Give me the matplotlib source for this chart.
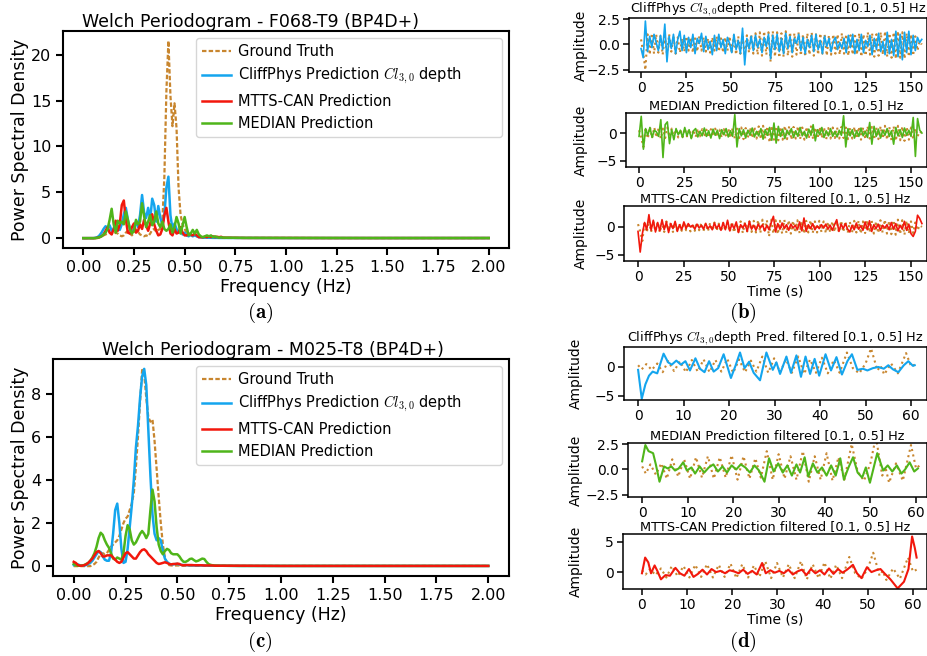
import numpy as np
import matplotlib
matplotlib.use("Agg")
import matplotlib.pyplot as plt

plt.rcParams["font.family"] = "DejaVu Sans"
plt.rcParams["mathtext.fontset"] = "cm"

# colours
C_GT = "#c8862f"
C_CLIFF = "#14a5ee"
C_MTTS = "#f2170c"
C_MEDIAN = "#4fb51a"

LBL_GT = "Ground Truth"
LBL_CLIFF = "CliffPhys Prediction $Cl_{3,0}$ depth        "
LBL_MTTS = "MTTS-CAN Prediction"
LBL_MEDIAN = "MEDIAN Prediction"

# ---------------- Welch PSD, 0.00..0.70 Hz step 0.01 + tail ----------------
freq = np.concatenate([np.round(np.arange(0.0, 0.705, 0.01), 2),
                       [0.8, 1.0, 1.2, 1.4, 1.6, 1.8, 2.0]])

# (a) F068-T9
psd_a_gt = [0, 0, 0, 0, 0, 0, 0, 0, 0.1, 0.2,
            0.3, 0.4, 0.5, 0.6, 0.5, 0.4, 0.6, 0.5, 0.3, 0.2,
            0.3, 0.6, 0.8, 0.5, 0.3, 0.6, 0.9, 0.7, 0.4, 0.3,
            0.2, 0.3, 0.2, 0.5, 0.9, 1.0, 0.7, 0.9, 1.0, 1.8,
            6.7, 16.0, 21.5, 15.5, 12.2, 14.7, 12.0, 5.5, 2.5, 1.5,
            1.0, 0.6, 0.4, 0.3, 0.2, 0.3, 0.2, 0.15, 0.1, 0.1,
            0.1, 0.08, 0.06, 0.05, 0.05, 0.04, 0.04, 0.03, 0.03, 0.03,
            0.02,
            0.02, 0.02, 0.01, 0.01, 0.01, 0.01, 0.01]
psd_a_cliff = [0, 0, 0, 0, 0, 0, 0.05, 0.1, 0.3, 0.6,
               1.0, 1.3, 1.1, 1.4, 0.8, 1.0, 1.6, 1.2, 0.9, 1.5,
               2.6, 3.3, 2.0, 1.0, 0.6, 1.0, 1.8, 1.2, 2.5, 4.7,
               2.8, 2.2, 3.3, 2.0, 4.3, 3.6, 1.8, 3.5, 2.2, 1.5,
               2.5, 5.5, 6.7, 2.5, 1.0, 1.6, 1.0, 0.6, 0.8, 0.4,
               0.6, 0.3, 0.2, 0.4, 0.2, 0.3, 0.2, 0.1, 0.1, 0.05,
               0.05, 0.05, 0.04, 0.04, 0.03, 0.03, 0.03, 0.02, 0.02, 0.02,
               0.02,
               0.02, 0.01, 0.01, 0.01, 0.01, 0.01, 0.01]
psd_a_mtts = [0, 0, 0, 0, 0, 0, 0, 0.05, 0.1, 0.2,
              0.4, 0.8, 1.2, 0.6, 0.4, 1.0, 1.9, 0.8, 1.5, 3.6,
              4.1, 2.0, 0.6, 0.5, 1.2, 1.6, 0.6, 0.8, 1.5, 1.0,
              2.0, 1.4, 0.8, 1.6, 2.6, 1.5, 0.8, 0.3, 0.4, 1.0,
              2.5, 3.3, 1.8, 0.5, 0.3, 1.0, 0.5, 0.6, 1.2, 0.6,
              0.3, 0.3, 0.5, 0.4, 0.3, 0.5, 0.3, 0.1, 0.1, 0.1,
              0.15, 0.1, 0.2, 0.1, 0.2, 0.1, 0.15, 0.1, 0.15, 0.05,
              0.05,
              0.02, 0.02, 0.01, 0.01, 0.01, 0.01, 0.01]
psd_a_median = [0, 0, 0, 0, 0, 0, 0, 0.05, 0.1, 0.2,
                0.4, 0.6, 1.0, 2.0, 3.2, 1.5, 0.6, 1.9, 1.6, 1.8,
                1.5, 2.9, 2.0, 1.0, 0.5, 0.8, 2.0, 1.5, 1.8, 3.8,
                2.4, 1.2, 1.8, 2.5, 1.4, 1.8, 2.9, 1.6, 1.2, 1.8,
                1.0, 0.8, 1.0, 1.5, 0.6, 1.2, 2.3, 1.6, 0.5, 1.4,
                2.3, 1.2, 0.3, 0.5, 0.9, 0.5, 0.9, 0.4, 0.2, 0.1,
                0.2, 0.3, 0.2, 0.3, 0.1, 0.2, 0.1, 0.05, 0.1, 0.05,
                0.05,
                0.03, 0.02, 0.02, 0.01, 0.01, 0.01, 0.01]

# (c) M025-T8
psd_c_gt = [0, 0, 0, 0, 0, 0, 0, 0, 0, 0.05,
            0.1, 0.2, 0.4, 0.55, 0.6, 0.55, 0.6, 0.75, 0.9, 1.0,
            1.1, 1.2, 1.4, 1.7, 2.0, 2.2, 2.3, 2.6, 2.9, 3.4,
            4.6, 6.0, 7.6, 9.1, 8.9, 7.8, 6.9, 6.7, 6.8, 5.8,
            4.5, 3.2, 2.0, 1.0, 0.4, 0.1, 0.05, 0.03, 0.03, 0.03,
            0.03, 0.03, 0.02, 0.02, 0.02, 0.02, 0.02, 0.02, 0.02, 0.02,
            0.02, 0.02, 0.02, 0.02, 0.02, 0.02, 0.02, 0.02, 0.02, 0.02,
            0.02,
            0.01, 0.01, 0.01, 0.01, 0.01, 0.01, 0.01]
psd_c_cliff = [0.05, 0.1, 0.08, 0.04, 0.02, 0.02, 0.05, 0.1, 0.15, 0.25,
               0.4, 0.55, 0.7, 0.65, 0.45, 0.3, 0.25, 0.25, 0.6, 1.5,
               2.6, 2.9, 2.0, 0.8, 0.15, 0.2, 0.8, 1.8, 2.8, 4.0,
               5.5, 6.5, 7.8, 8.8, 9.15, 8.4, 6.3, 4.2, 2.4, 1.5,
               1.2, 1.3, 1.2, 0.7, 0.35, 0.2, 0.12, 0.08, 0.08, 0.1,
               0.1, 0.08, 0.06, 0.05, 0.05, 0.04, 0.04, 0.04, 0.03, 0.03,
               0.03, 0.03, 0.03, 0.03, 0.03, 0.02, 0.02, 0.02, 0.02, 0.02,
               0.02,
               0.01, 0.01, 0.01, 0.01, 0.01, 0.01, 0.01]
psd_c_mtts = [0.2, 0.15, 0.05, 0.02, 0.02, 0.04, 0.08, 0.15, 0.25, 0.35,
              0.5, 0.65, 0.7, 0.6, 0.45, 0.45, 0.5, 0.5, 0.5, 0.4,
              0.3, 0.2, 0.15, 0.2, 0.4, 0.6, 0.65, 0.55, 0.45, 0.35,
              0.35, 0.5, 0.65, 0.75, 0.78, 0.7, 0.55, 0.45, 0.35, 0.25,
              0.15, 0.1, 0.12, 0.15, 0.18, 0.15, 0.1, 0.08, 0.1, 0.1,
              0.12, 0.1, 0.05, 0.04, 0.05, 0.05, 0.05, 0.05, 0.04, 0.04,
              0.04, 0.04, 0.04, 0.03, 0.03, 0.03, 0.03, 0.03, 0.02, 0.02,
              0.02,
              0.02, 0.01, 0.01, 0.01, 0.01, 0.01, 0.01]
psd_c_median = [0.1, 0.05, 0.02, 0.02, 0.03, 0.05, 0.1, 0.15, 0.25, 0.4,
                0.6, 0.9, 1.3, 1.55, 1.45, 1.2, 1.0, 0.85, 0.6, 0.35,
                0.3, 0.4, 0.35, 0.3, 0.6, 1.4, 1.9, 1.7, 1.2, 1.0,
                1.1, 1.3, 1.5, 1.63, 1.5, 1.3, 1.5, 2.6, 3.55, 3.0,
                1.8, 1.0, 0.7, 0.55, 0.7, 0.8, 0.75, 0.6, 0.55, 0.55,
                0.55, 0.45, 0.3, 0.2, 0.2, 0.25, 0.33, 0.35, 0.28, 0.22,
                0.25, 0.3, 0.35, 0.33, 0.2, 0.1, 0.06, 0.04, 0.03, 0.02,
                0.02,
                0.01, 0.01, 0.01, 0.01, 0.01, 0.01, 0.01]

# ---------------- (b) filtered signals, F068-T9, step 1.2 s ----------------
t_b = np.round(np.arange(0.0, 156.01, 1.2), 1)

sig_b_gt = [0.5, -0.8, -2.5, 1.0, -1.0, 1.1, -0.9, 1.0, -0.8, 0.9,
            -1.0, 0.8, -0.9, 1.0, -0.7, 0.8, -0.9, 0.7, -0.8, 0.6,
            -0.7, 0.8, -0.6, 0.7, -0.8, 0.6, -0.7, 0.8, -0.6, 0.7,
            -0.7, 0.6, -0.8, 0.7, -0.6, 0.8, -0.7, 0.6, -0.8, 0.7,
            -0.6, 0.8, -0.9, 0.9, -1.0, 0.8, -0.9, 1.0, -1.1, 0.9,
            -0.8, 1.0, -0.9, 1.1, -1.0, 1.2, -1.1, 1.3, -1.0, 1.2,
            -1.7, 1.3, -1.2, 1.2, -1.3, 1.1, -1.2, 1.3, -1.1, 1.2,
            -1.2, 1.1, -1.0, 1.2, -1.1, 1.0, -1.2, 1.1, -1.0, 1.2,
            -1.1, 1.0, -1.0, 1.1, -0.9, 1.0, -1.1, 0.9, -1.0, 1.0,
            -0.9, 1.0, -1.0, 1.1, -0.9, 1.0, -1.1, 0.9, -1.0, 1.1,
            -1.0, 1.1, -1.2, 1.0, -1.1, 1.2, -1.0, 1.1, -1.2, 1.0,
            -1.1, 1.2, -1.0, 1.3, -1.2, 1.1, -1.3, 1.2, -1.4, 1.3,
            -1.3, 1.2, -1.4, 1.1, -1.2, 1.0, -1.1, 0.8, -0.6, 0.3,
            0.0]
sig_b_cliff = [-0.4, -1.3, 2.3, -0.7, 0.8, -0.3, 1.0, 0.2, -0.6, 0.9,
               -0.5, 2.0, -1.7, 0.8, -0.4, 1.0, -0.9, 0.5, 1.3, -0.6,
               0.9, -0.8, 0.7, -0.3, 1.0, -0.9, 0.6, 0.1, 1.1, -0.7,
               0.8, -0.5, 0.3, -1.0, 0.9, -0.6, 1.0, -0.3, 0.5, -0.9,
               0.7, 0.1, -0.8, 1.0, -0.5, 0.4, -0.9, 1.6, -2.0, 0.6,
               -0.4, 0.8, -0.6, 0.9, -0.3, 0.5, -0.8, 0.7, -0.2, 1.0,
               -1.4, 0.9, -0.5, 1.0, -0.7, 0.6, -0.9, 1.1, -0.4, 0.8,
               -0.8, 0.6, 0.1, 1.0, -0.6, 0.7, -0.9, 0.5, -0.3, 0.9,
               -0.7, 1.0, -0.5, 0.4, -0.9, 0.8, -0.2, 0.6, -0.7, 0.3,
               0.7, -0.5, 0.2, -0.4, 0.6, -0.8, 0.9, -0.3, 1.0, -0.9,
               0.5, -0.6, 1.0, -0.8, 0.4, -0.2, 0.9, -1.0, 0.6, -0.5,
               1.1, -0.7, 0.3, -1.0, 1.2, -0.9, 0.5, -1.1, 1.3, -1.2,
               1.0, -1.5, 1.2, -0.8, 1.3, -1.0, 0.9, -0.6, 0.7, 0.2,
               0.5]
sig_b_median = [-0.6, 3.0, -2.9, 0.8, -0.4, 1.0, -0.8, 0.5, 0.2, -0.6,
                2.4, -4.4, 1.5, 2.0, -1.9, 0.6, -1.2, 0.8, -0.3, 0.5,
                -0.8, 1.0, -0.5, 0.6, -1.0, 0.4, 0.8, -0.7, 0.3, -0.5,
                0.9, -0.6, 0.4, -0.9, 0.7, -0.4, 0.5, -1.0, 0.6, -0.3,
                0.8, -0.7, 0.4, -0.6, 3.3, -2.5, 0.8, -0.5, 0.6, -0.9,
                0.5, -0.4, 0.9, -0.7, 0.3, -0.5, 0.8, -1.1, 0.6, -0.4,
                1.0, -1.3, 1.8, -1.8, 1.2, -0.6, 0.7, -1.0, 0.5, -0.3,
                0.8, -0.8, 0.4, -0.6, 1.0, -0.5, 0.3, -0.9, 0.7, -0.4,
                1.5, -1.4, 0.6, -0.3, 1.0, -0.8, 0.4, -0.5, 0.8, -0.6,
                0.3, -0.7, 0.5, -0.4, 3.1, -2.5, 0.8, -0.5, 0.6, -0.9,
                0.4, -0.6, 0.9, -0.5, 0.3, -0.8, 1.9, -2.0, 1.2, -0.6,
                0.7, -0.9, 0.5, -0.4, 0.8, -0.6, 0.4, -2.0, 1.0, -0.5,
                0.6, -0.8, 0.9, -0.4, 0.5, -0.6, 2.8, -4.2, 2.6, 0.5,
                0.0]
sig_b_mtts = [-0.8, -4.5, -1.2, 0.8, -0.5, 2.2, -0.6, 1.2, -0.9, 0.8,
              -0.7, 1.3, -0.5, 0.9, -1.0, 0.6, -0.3, 1.0, -0.8, 0.4,
              -0.5, 0.9, -0.3, 0.6, 0.0, 0.3, -0.4, 0.5, -0.2, 0.3,
              -0.4, 0.6, -0.3, 0.2, -0.5, 0.7, -0.3, 0.4, -0.6, 0.8,
              -0.5, 1.2, -0.7, 0.5, -0.3, 0.9, -1.0, 0.4, -0.2, 0.6,
              -0.8, 1.0, -0.4, 0.3, -0.6, 0.5, -0.2, 0.4, -0.7, 0.3,
              -0.5, 0.8, 1.9, -0.9, 0.6, -0.4, 0.7, -0.3, 0.4, -0.6,
              0.5, -0.2, 0.3, -0.5, 0.9, -0.7, 1.6, -0.8, 0.4, -0.3,
              0.6, -0.5, 0.2, -0.3, 0.4, -0.2, 0.5, -0.4, 0.3, -0.6,
              0.4, 1.3, -0.8, 0.5, -0.3, 0.6, -0.4, -0.9, 0.3, -0.5,
              0.7, -0.4, 0.2, -0.6, 0.9, -0.5, 1.1, -0.8, 0.4, -0.3,
              0.5, -0.6, 0.3, -0.2, 0.4, -0.5, 0.8, -0.4, 0.6, -0.7,
              0.3, -0.4, 1.0, -0.6, 0.5, -1.2, -1.7, -0.8, 2.1, 1.5,
              0.6]

# ---------------- (d) filtered signals, M025-T8, (time, value) ----------------
sig_d_gt = [(0.0, 0.3), (0.8, -0.4), (1.8, 0.5), (3.0, -0.5), (4.2, 0.6),
            (5.4, -0.9), (6.6, 1.0), (7.9, -0.7), (9.2, 1.0), (10.5, -0.9),
            (11.8, 1.2), (13.1, -0.8), (14.4, 1.3), (15.7, -0.9), (17.0, 1.2),
            (18.3, -0.8), (19.6, 1.4), (20.9, -1.0), (22.2, 1.3), (23.5, -0.9),
            (24.8, 1.1), (26.0, -0.8), (27.3, 1.8), (28.6, -1.0), (29.9, 1.5),
            (31.2, -0.9), (32.5, 1.3), (33.8, -1.0), (35.2, 1.8), (36.5, -1.2),
            (37.8, 1.3), (39.1, -1.0), (40.4, 1.6), (41.7, -1.1), (43.0, 1.2),
            (44.3, -1.0), (45.9, 2.5), (47.2, -0.2), (48.6, -1.1), (50.0, 0.6),
            (51.2, 3.2), (52.6, -0.6), (53.3, 0.2), (54.1, -1.3), (55.6, 0.6),
            (57.1, -1.1), (58.9, 2.4), (60.0, 0.1), (60.8, 0.4)]
sig_d_cliff = [(0.0, -0.5), (0.8, -5.5), (1.6, -3.0), (2.4, -1.5), (3.2, -0.8),
               (4.2, -1.1), (5.6, 2.3), (6.6, 0.8), (7.4, 0.4), (8.4, 1.1),
               (9.4, 0.4), (10.4, 1.0), (11.4, -0.6), (12.6, 1.5), (13.6, -0.3),
               (14.6, -0.9), (15.6, 1.0), (16.6, -0.8), (17.6, -0.2), (18.8, 2.2),
               (20.4, -1.9), (21.4, 0.2), (22.4, 2.5), (23.4, -0.2), (24.4, 0.9),
               (25.4, -1.0), (26.8, -2.3), (28.2, 2.5), (29.6, -0.5), (30.4, 0.8),
               (31.2, -1.2), (32.6, 1.8), (33.6, -1.0), (34.8, 2.0), (35.8, -1.7),
               (36.8, 1.8), (37.8, -1.2), (38.8, 1.4), (39.8, -1.5), (41.2, 2.2),
               (42.4, -0.6), (43.6, 1.7), (44.8, -1.3), (46.0, 1.0), (47.0, 2.2),
               (48.2, -0.5), (49.4, -0.3), (50.4, -0.6), (51.6, -0.2), (52.8, 0.0),
               (54.0, -0.3), (55.0, 0.3), (56.0, -0.4), (57.2, -0.9), (58.4, 0.3),
               (59.4, 1.0), (60.4, 0.2), (60.8, 0.3)]
sig_d_median = [(0.0, 0.8), (0.7, 2.4), (1.4, 1.8), (2.4, 1.6), (3.0, 0.5),
                (3.8, -1.2), (4.8, 0.3), (5.6, 0.1), (6.4, 0.3), (7.2, -0.1),
                (8.0, 0.1), (9.0, 0.7), (9.8, -0.1), (10.8, 0.2), (11.6, -0.4),
                (12.6, 0.3), (13.6, -0.3), (14.6, 0.2), (15.6, 0.5), (16.6, -0.2),
                (17.6, 0.3), (18.6, -0.3), (19.6, 0.4), (20.6, 0.0), (21.6, 0.5),
                (22.6, 0.2), (23.6, -0.3), (24.6, 0.4), (25.6, -0.1), (26.8, -1.2),
                (27.8, 1.1), (28.8, -0.2), (29.8, 0.6), (30.8, -0.3), (31.8, 0.4),
                (32.8, -0.6), (33.8, 0.5), (34.6, -0.3), (35.6, 1.2), (36.4, -0.7),
                (37.4, 0.6), (38.4, -0.3), (39.4, 0.2), (40.4, -0.6), (41.4, 0.4),
                (42.4, -0.6), (43.4, 1.1), (44.2, -1.0), (45.2, 0.2), (46.2, 1.2),
                (47.2, -0.3), (48.2, -0.8), (49.0, 0.2), (49.9, -1.3), (51.5, 1.6),
                (52.8, -0.1), (53.8, 0.4), (54.8, -0.2), (55.8, 0.4), (56.8, -0.4),
                (57.6, 0.0), (58.6, 0.7), (59.6, -0.2), (60.4, 0.1)]
sig_d_mtts = [(0.0, -0.2), (0.7, 2.4), (1.4, 1.6), (2.0, -0.2), (2.8, 1.1),
              (3.4, 0.2), (4.2, -1.2), (5.2, -0.5), (6.2, -0.6), (7.4, 0.7),
              (8.4, -0.2), (9.4, -0.6), (10.4, 0.5), (11.4, -0.8), (12.4, -0.3),
              (13.4, 0.4), (14.4, -0.4), (15.4, 0.5), (16.4, 0.0), (17.4, 0.2),
              (18.4, -0.2), (19.4, 0.3), (20.4, 0.1), (21.4, -0.2), (22.4, 0.4),
              (23.4, -0.3), (24.4, 0.2), (25.4, -0.4), (26.6, 1.5), (27.4, -0.2),
              (28.4, 0.3), (29.4, -0.1), (30.4, 0.2), (31.4, -0.2), (32.4, 0.4),
              (33.4, -0.4), (34.4, 0.1), (35.4, 0.4), (36.4, -0.5), (37.4, 0.5),
              (38.4, -0.2), (39.4, 0.3), (40.4, -0.4), (41.4, 0.6), (42.4, -0.3),
              (43.4, 0.5), (44.4, -0.1), (45.4, 0.4), (46.7, 1.2), (47.6, -0.2),
              (48.6, -1.0), (49.8, 0.8), (50.8, 0.0), (51.8, 0.3), (52.8, 0.5),
              (53.8, -0.3), (55.0, -1.2), (56.6, -2.7), (58.0, -1.6), (59.0, 0.5),
              (59.8, 5.9), (60.4, 4.0), (60.8, 2.4)]

W, H = 928, 656
fig = plt.figure(figsize=(W / 100, H / 100), dpi=100)


def px_axes(left, top, right, bottom):
    return fig.add_axes([left / W, 1 - bottom / H, (right - left) / W, (bottom - top) / H])


def style(ax, big):
    lw = 1.5 if big else 1.1
    for s in ax.spines.values():
        s.set_linewidth(lw)
    ax.tick_params(labelsize=11.5 if big else 10, length=5 if big else 4, width=lw,
                   pad=3.5 if big else 2.5)


def psd_panel(ax, gt, cliff, mtts, median, title, tx, red_on_top):
    ax.plot(freq, gt, ls=(0, (2, 1)), lw=1.6, color=C_GT, label=LBL_GT)
    ax.plot(freq, cliff, lw=1.8, color=C_CLIFF, label=LBL_CLIFF)
    ax.plot(freq, mtts, lw=1.8, color=C_MTTS, label=LBL_MTTS, zorder=3 if red_on_top else 2)
    ax.plot(freq, median, lw=1.8, color=C_MEDIAN, label=LBL_MEDIAN, zorder=2.5)
    style(ax, True)
    ax.set_xticks([0, 0.25, 0.5, 0.75, 1.0, 1.25, 1.5, 1.75, 2.0])
    ax.set_title(title, fontsize=12.5, x=tx, pad=3)
    ax.set_xlabel("Frequency (Hz)", fontsize=12.5, labelpad=2)
    ax.set_ylabel("Power Spectral Density", fontsize=12.5)
    ax.legend(loc="upper right", fontsize=10.5, labelspacing=0.5, handletextpad=0.5)


ax_a = px_axes(63, 31, 509, 248)
psd_panel(ax_a, psd_a_gt, psd_a_cliff, psd_a_mtts, psd_a_median,
          "Welch Periodogram - F068-T9 (BP4D+)", 0.42, False)
ax_a.yaxis.set_label_coords(-0.076, 0.5)

ax_c = px_axes(53, 359, 509, 576)
psd_panel(ax_c, psd_c_gt, psd_c_cliff, psd_c_mtts, psd_c_median,
          "Welch Periodogram - M025-T8 (BP4D+)", 0.482, True)
ax_c.yaxis.set_label_coords(-0.053, 0.5)


def sig_panel(ax, t_gt, gt, t_pred, pred, color, title, xlim, ylim, yticks, xticks,
              ylab_x, xlab, lw):
    ax.plot(t_gt, gt, ls=":", lw=1.5, color=C_GT)
    ax.plot(t_pred, pred, lw=lw, color=color)
    style(ax, False)
    ax.set_xlim(*xlim)
    ax.set_ylim(*ylim)
    ax.set_yticks(yticks)
    ax.set_xticks(xticks)
    ax.set_title(title, fontsize=9.3, pad=2)
    ax.set_ylabel("Amplitude", fontsize=10)
    ax.yaxis.set_label_coords(ylab_x, 0.5)
    if xlab:
        ax.set_xlabel("Time (s)", fontsize=10, labelpad=0)


CLIFF_T = "CliffPhys $Cl_{3,0}$depth Pred. filtered [0.1, 0.5] Hz"
MEDIAN_T = "MEDIAN Prediction filtered [0.1, 0.5] Hz"
MTTS_T = "MTTS-CAN Prediction filtered [0.1, 0.5] Hz"
xt_b = [0, 25, 50, 75, 100, 125, 150]
xt_d = [0, 10, 20, 30, 40, 50, 60]

# (b)
ax = px_axes(629, 18, 927, 72)
sig_panel(ax, t_b, sig_b_gt, t_b, sig_b_cliff, C_CLIFF, CLIFF_T, (-6.7, 158.9), (-2.7, 2.6),
          [-2.5, 0.0, 2.5], xt_b, -0.138, False, 1.2)
ax.set_yticklabels(["\u22122.5", "0.0", "2.5"])
ax = px_axes(626, 113, 927, 167)
sig_panel(ax, t_b, sig_b_gt, t_b, sig_b_median, C_MEDIAN, MEDIAN_T, (-7.2, 158.8), (-6.1, 3.6),
          [-5, 0], xt_b, -0.126, False, 1.2)
ax = px_axes(624, 206, 927, 261)
sig_panel(ax, t_b, sig_b_gt, t_b, sig_b_mtts, C_MTTS, MTTS_T, (-7.7, 158.8), (-6.1, 3.75),
          [-5, 0], xt_b, -0.119, True, 1.2)

# (d)
gt_d = np.array(sig_d_gt).T
cl_d = np.array(sig_d_cliff).T
me_d = np.array(sig_d_median).T
mt_d = np.array(sig_d_mtts).T

ax = px_axes(624, 347, 927, 400)
sig_panel(ax, gt_d[0], gt_d[1], cl_d[0], cl_d[1], C_CLIFF, CLIFF_T, (-3.1, 63.5), (-5.7, 3.45),
          [-5, 0], xt_d, -0.135, False, 1.5)
ax = px_axes(628, 443, 927, 497)
sig_panel(ax, gt_d[0], gt_d[1], me_d[0], me_d[1], C_MEDIAN, MEDIAN_T, (-3.1, 62.4), (-2.7, 2.6),
          [-2.5, 0.0, 2.5], xt_d, -0.150, False, 1.5)
ax.set_yticklabels(["\u22122.5", "0.0", "2.5"])
ax = px_axes(623, 534, 927, 589)
sig_panel(ax, gt_d[0], gt_d[1], mt_d[0], mt_d[1], C_MTTS, MTTS_T, (-4.2, 63.1), (-2.8, 6.3),
          [0, 5], xt_d, -0.132, True, 1.5)

for lab, x, y in [("a", 260, 313), ("b", 743, 313), ("c", 260, 642), ("d", 743, 642)]:
    fig.text(x / W, 1 - y / H, r"$\mathbf{(%s)}$" % lab, ha="center", va="center", fontsize=15)

fig.savefig("out.png", dpi=100)
